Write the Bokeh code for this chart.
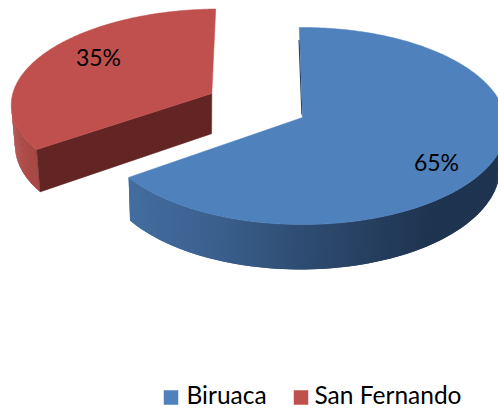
import numpy as np
from bokeh.embed import file_html
from bokeh.resources import INLINE
from bokeh.plotting import figure
from bokeh.models import Range1d
from bokeh.core.properties import value

categories = ["Biruaca", "San Fernando"]
shares = [65.4, 34.6]
labels = ["65%", "35%"]
exploded = [0.0, 0.51]

TOP = ["#4f81bd", "#c0504d"]
CUT = ["#1f3552", "#632523"]
WALL_STOPS = [
    ([130, 220, 300, 430, 500], ["#436da0", "#3a5f8c", "#2f4d73", "#1f3450", "#1f3450"]),
    ([0, 40, 500], ["#b04d4a", "#a74845", "#a74845"]),
]
SQUASH = [1.0, 0.975]
LIFT = [0.0, -2.0]

AX, AY, A, B, K, DEPTH = 302.0, 117.0, 203.0, 97.8, 0.0866, 41.0
VX, CONVERGE = 200.0, 0.02
START = -1.0


def project(u, v):
    f = 1.0 / (1.0 - K * v)
    return AX + A * u * f, AY + B * v * f, f


def lerp_color(x, xs, cols):
    rgb = [np.interp(x, xs, [int(c[i:i + 2], 16) for c in cols]) for i in (1, 3, 5)]
    return "#%02x%02x%02x" % tuple(int(round(c)) for c in rgb)


p = figure(width=498, height=408, x_range=Range1d(0, 498), y_range=Range1d(408, 0),
           output_backend="svg", toolbar_location=None, min_border=0,
           outline_line_color=None, background_fill_color="white", border_fill_color="white")
p.axis.visible = False
p.grid.visible = False

theta0 = START
slices = []
for share, e in zip(shares, exploded):
    sweep = share / sum(shares) * 360.0
    mid = np.radians(theta0 + sweep / 2)
    slices.append((theta0, sweep, e * np.sin(mid), -e * np.cos(mid)))
    theta0 += sweep

for idx in (1, 0):
    th0, sweep, ou, ov = slices[idx]
    th = np.radians(np.linspace(th0, th0 + sweep, 241))
    u, v = np.sin(th) + ou, -np.cos(th) + ov
    x, y, f = project(u, v)
    ax, ay, af = project(np.array(ou), np.array(ov))
    y = ay + (y - ay) * SQUASH[idx] + LIFT[idx]
    ay = ay + LIFT[idx]
    yb = y + DEPTH * f
    ayb = ay + DEPTH * af
    xb = x + (VX - x) * CONVERGE
    axb = ax + (VX - ax) * CONVERGE

    # outer wall, shaded along x; only the part facing the viewer, each piece overlapping the next
    xs_q, ys_q, cols = [], [], []
    for i in range(len(x) - 1):
        if x[i + 1] >= x[i]:
            continue
        j = min(i + 2, len(x) - 1)
        xs_q.append([x[i], x[j], xb[j], xb[i]])
        ys_q.append([y[i], y[j], yb[j], yb[i]])
        cols.append(lerp_color((x[i] + x[i + 1]) / 2, *WALL_STOPS[idx]))
    p.patches(xs_q, ys_q, fill_color=cols, line_color=None)

    if idx == 1:
        p.patch([ax, x[0], xb[0], axb], [ay, y[0], yb[0], ayb],
                fill_color=CUT[idx], line_color=CUT[idx], line_width=0.5)
    else:
        t = 0.14
        sx = x[0] + (ax - x[0]) * t
        sy = y[0] + (ay - y[0]) * t
        p.patch([sx, ax, ax - 1.2, sx - 1.2], [sy, ay, ay - 4, sy],
                fill_color=CUT[idx], line_color=None)

    p.patch(np.r_[ax, x], np.r_[ay, y], fill_color=TOP[idx], line_color=TOP[idx], line_width=0.5)

p.text([436], [161], text=[labels[0]], text_font=value("Lato"), text_font_size="23px",
       text_align="center", text_baseline="middle", text_color="#000000")
p.text([98], [56], text=[labels[1]], text_font=value("Lato"), text_font_size="23px",
       text_align="center", text_baseline="middle", text_color="#000000")

p.rect([170.5, 300.5], [397, 397], width=14.5, height=14.5, fill_color=TOP, line_color=None)
p.text([186, 314], [394, 394], text=categories, text_font=value("Lato"), text_font_size="24.5px",
       text_align="left", text_baseline="middle", text_color="#000000")

open("out.html", "w").write(file_html(p, INLINE))
